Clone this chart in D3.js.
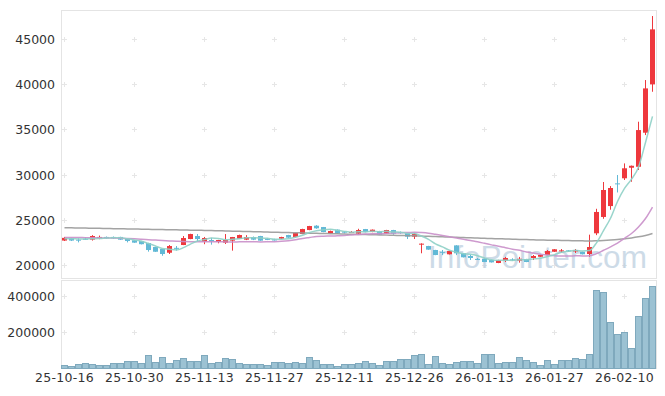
<!DOCTYPE html>
<html><head><meta charset="utf-8">
<script src="https://cdn.jsdelivr.net/npm/d3@7"></script>
<style>html,body{margin:0;padding:0;background:#fff;}svg{display:block}</style>
</head><body><div id="chart"></div>
<script>
const dates = [
"25-10-16","25-10-17","25-10-20","25-10-21","25-10-22","25-10-23","25-10-24","25-10-27","25-10-28","25-10-29","25-10-30","25-10-31",
"25-11-03","25-11-04","25-11-05","25-11-06","25-11-07","25-11-10","25-11-11","25-11-12","25-11-13","25-11-14","25-11-17","25-11-18","25-11-19","25-11-20","25-11-21","25-11-24","25-11-25","25-11-26","25-11-27","25-11-28",
"25-12-01","25-12-02","25-12-03","25-12-04","25-12-05","25-12-08","25-12-09","25-12-10","25-12-11","25-12-12","25-12-15","25-12-16","25-12-17","25-12-18","25-12-19","25-12-22","25-12-23","25-12-24","25-12-26","25-12-29","25-12-30",
"26-01-02","26-01-05","26-01-06","26-01-07","26-01-08","26-01-09","26-01-12","26-01-13","26-01-14","26-01-15","26-01-16","26-01-19","26-01-20","26-01-21","26-01-22","26-01-23","26-01-26","26-01-27","26-01-28","26-01-29","26-01-30",
"26-02-02","26-02-03","26-02-04","26-02-05","26-02-06","26-02-09","26-02-10","26-02-11","26-02-12","26-02-13","26-02-19"];

const openP = [22800,23050,22900,23000,22900,23050,23200,23200,23200,23000,
22830,22750,22530,22090,21870,21460,22000,22310,22970,23300,
22680,22860,22640,22570,22790,23000,22900,23190,23300,22980,
22920,23000,23410,23190,23520,23960,24440,24290,23600,24000,
23780,23660,23560,24070,23740,23850,23560,23960,23720,23630,
23230,22350,22200,21760,21560,21290,22270,21400,21100,20780,
20800,20660,20330,20590,20730,20590,20770,20880,21020,21210,
21570,21680,21720,21600,21570,21320,23600,25400,26600,29100,
29660,30820,30930,34680,40000];
const highP = [23200,23100,23050,23150,23400,23350,23250,23250,23220,23050,
22850,22780,22550,22100,21880,22310,22200,23300,23550,23520,
23200,23100,22880,23520,23200,23450,23400,23250,23320,23050,
23000,23220,23430,23650,24100,24420,24500,24300,23900,24020,
23850,23850,24100,24080,24020,23870,23980,23980,23800,23650,
23630,22500,22220,21780,21760,21670,22290,21420,21210,20880,
20820,20680,20680,21000,20850,21000,20790,21210,21230,21760,
21860,21870,21760,21870,21590,23450,26300,29250,28800,30020,
31300,31060,35890,40480,47530];
const lowP = [22750,22750,22600,22880,22800,22950,23000,23000,22880,22600,
22550,22380,21580,21550,21130,21320,21700,22300,22950,22750,
22400,22350,22500,22420,21690,22980,22850,22850,22770,22850,
22800,22980,23100,23150,23500,23940,24100,23720,23580,23540,
23600,23640,23450,23720,23720,23430,23540,23450,23550,22970,
22970,21400,21780,21190,21210,21270,21200,20940,20660,20660,
20420,20380,20310,20440,20550,20370,20420,20660,21000,21190,
21550,21470,21540,21430,21270,21020,23400,25200,26200,28100,
29470,29280,30570,34420,39190];
const closeP = [23100,22800,22850,22950,23300,23200,23050,23050,22900,22750,
22570,22400,21760,21570,21320,22200,21950,23080,23520,22970,
23080,22720,22860,22860,23190,23410,23190,22900,22790,22950,
22900,23190,23120,23630,24070,24400,24150,23740,23850,23560,
23740,23740,23960,23740,24000,23450,23960,23560,23680,23230,
23520,22460,21800,21210,21520,21650,21400,20960,20880,20740,
20440,20400,20660,20880,20700,20800,20440,21100,21210,21650,
21840,21720,21680,21750,21290,22090,25950,28370,28590,29040,
30760,31040,34970,39560,46060];
const volume = [15000,9000,20000,26000,20000,16000,16000,26000,26000,37000,
37000,26000,70000,32000,59000,26000,43000,54000,37000,37000,
70000,26000,32000,54000,48000,26000,20000,20000,20000,15000,
32000,32000,26000,32000,26000,59000,43000,20000,20000,9000,
20000,20000,26000,37000,26000,15000,37000,37000,48000,48000,
70000,76000,20000,65000,26000,20000,32000,37000,37000,26000,
76000,76000,26000,32000,32000,59000,43000,32000,15000,43000,
20000,43000,43000,54000,48000,76000,432000,420000,254000,187000,
198000,109000,287000,387000,454000];
const ma5 = [23000,23000,22980,22980,23000,23020,23070,23110,23100,22990,
22864,22734,22476,22210,21924,21850,21760,22024,22414,22744,
22920,23074,23030,22898,22942,23008,23102,23110,23096,23048,
22946,22946,22990,23158,23382,23682,23874,23998,24042,23940,
23808,23726,23770,23748,23836,23778,23822,23742,23730,23576,
23590,23290,22938,22444,22102,21728,21516,21348,21282,21126,
20884,20684,20624,20624,20616,20688,20696,20784,20850,21040,
21248,21504,21620,21728,21656,21706,22552,23890,25258,27100,
28542,29560,30880,33600,36478];
const ma20 = [23150,23140,23130,23120,23110,23100,23090,23070,23050,23020,
22990,22950,22900,22850,22800,22760,22720,22690,22670,22665,
22664,22660,22660,22656,22650,22661,22668,22660,22655,22665,
22681,22721,22789,22892,23029,23139,23249,23282,23299,23328,
23361,23412,23467,23511,23552,23554,23592,23625,23670,23684,
23715,23678,23612,23491,23364,23226,23089,22950,22801,22660,
22495,22328,22163,22020,21855,21723,21547,21424,21300,21221,
21137,21100,21094,21121,21110,21132,21359,21730,22115,22530,
23046,23578,24294,25228,26496];
const ma120 = [24220,24205,24190,24175,24160,24145,24130,24115,24100,24085,
24070,24055,24040,24025,24010,23995,23980,23965,23950,23935,
23920,23900,23880,23860,23840,23820,23800,23780,23760,23740,
23720,23700,23680,23660,23640,23620,23600,23580,23560,23540,
23520,23500,23480,23460,23440,23420,23400,23380,23360,23340,
23320,23290,23265,23240,23210,23185,23160,23130,23105,23080,
23050,23025,23000,22975,22950,22925,22905,22880,22860,22845,
22830,22815,22800,22785,22770,22755,22780,22820,22870,22930,
23010,23090,23210,23370,23580];
const priceTicks = [20000,25000,30000,35000,40000,45000];
const volumeTicks = [200000,400000];
const xTickDates = ["25-10-16","25-10-30","25-11-13","25-11-27","25-12-11","25-12-26","26-01-13","26-01-27","26-02-10"];

const W = 665, H = 396;
const L = 61, R = 656, pTop = 10, pBot = 278, vTop = 280, vBot = 368;
const RED = "#ee383d", BLUE = "#62b9d6";

const svg = d3.select("#chart").append("svg").attr("width", W).attr("height", H)
  .style("font-family", "'DejaVu Sans', sans-serif");

const x = d3.scaleBand().domain(dates).range([L, R]).padding(0);
const cx = d => x(d) + x.bandwidth() / 2;
const y = d3.scaleLinear().domain([18678, 48194]).range([pBot, pTop]);
const yv = d3.scaleLinear().domain([0, 488900]).range([vBot, vTop]);

// panel frames
svg.append("rect").attr("x", L + 0.5).attr("y", pTop + 0.5).attr("width", R - L).attr("height", pBot - pTop)
  .attr("fill", "#fff").attr("stroke", "#e4e4e4");
svg.append("rect").attr("x", L + 0.5).attr("y", vTop + 0.5).attr("width", R - L).attr("height", vBot - vTop)
  .attr("fill", "#fff").attr("stroke", "#e4e4e4");

// grid crosses
const crossG = svg.append("g").attr("stroke", "#e6e6e6").attr("stroke-width", 1);
function cross(px, py) {
  px = Math.round(px - 0.5) + 0.5; py = Math.round(py - 0.5) + 0.5;
  crossG.append("path").attr("d", `M${px-2.5},${py}H${px+2.5}M${px},${py-2.5}V${py+2.5}`);
}
xTickDates.forEach(d => {
  priceTicks.forEach(v => cross(cx(d), y(v)));
  volumeTicks.forEach(v => cross(cx(d), yv(v)));
});

// watermark
svg.append("text").attr("x", 428).attr("y", 268).text("InfoPointer.com")
  .attr("font-family", "'Liberation Sans', Arial, sans-serif")
  .attr("font-size", 31.5)
  .attr("fill", "#bdd0df").attr("opacity", 0.75);

// volume bars
svg.append("g").selectAll("rect").data(dates).join("rect")
  .attr("x", d => x(d) + 0.5)
  .attr("y", (d, i) => Math.round(yv(volume[i])) + 0.5)
  .attr("width", x.bandwidth() - 1)
  .attr("height", (d, i) => vBot - Math.round(yv(volume[i])))
  .attr("fill", "#9cc2d3").attr("stroke", "#7fa9bd").attr("stroke-width", 1);

// candles
const cg = svg.append("g");
dates.forEach((d, i) => {
  const up = closeP[i] >= openP[i];
  const col = up ? RED : BLUE;
  const xc = cx(d);
  cg.append("line").attr("x1", xc).attr("x2", xc).attr("y1", y(highP[i])).attr("y2", y(lowP[i]))
    .attr("stroke", col).attr("stroke-width", 1);
  const top = y(Math.max(openP[i], closeP[i])), bot = y(Math.min(openP[i], closeP[i]));
  cg.append("rect").attr("x", xc - 2.5).attr("y", top).attr("width", 5)
    .attr("height", Math.max(1, bot - top)).attr("fill", col);
});

// moving averages
const mkLine = arr => d3.line().x((d, i) => cx(dates[i])).y(d => y(d)).curve(d3.curveMonotoneX)(arr);
svg.append("path").attr("d", mkLine(ma120)).attr("fill", "none").attr("stroke", "#999").attr("stroke-width", 1.5).attr("opacity", 0.9);
svg.append("path").attr("d", mkLine(ma20)).attr("fill", "none").attr("stroke", "#c98fc9").attr("stroke-width", 1.5).attr("opacity", 0.9);
svg.append("path").attr("d", mkLine(ma5)).attr("fill", "none").attr("stroke", "#8fd0c6").attr("stroke-width", 1.5).attr("opacity", 0.9);

// axes
const yAxis = svg.append("g").attr("transform", `translate(${L},0)`)
  .call(d3.axisLeft(y).tickValues(priceTicks).tickSize(0).tickPadding(6).tickFormat(d3.format("d")));
const vAxis = svg.append("g").attr("transform", `translate(${L},0)`)
  .call(d3.axisLeft(yv).tickValues(volumeTicks).tickSize(0).tickPadding(6).tickFormat(d3.format("d")));
const xAxis = svg.append("g").attr("transform", `translate(0,${vBot})`)
  .call(d3.axisBottom(x).tickValues(xTickDates).tickSize(0).tickPadding(5));
[yAxis, vAxis, xAxis].forEach(g => {
  g.select(".domain").remove();
  g.selectAll("text").attr("fill", "#333").attr("font-size", 12.5)
    .attr("font-family", "'DejaVu Sans', sans-serif");
});
xAxis.selectAll("text").attr("letter-spacing", 0.3);
</script></body></html>
